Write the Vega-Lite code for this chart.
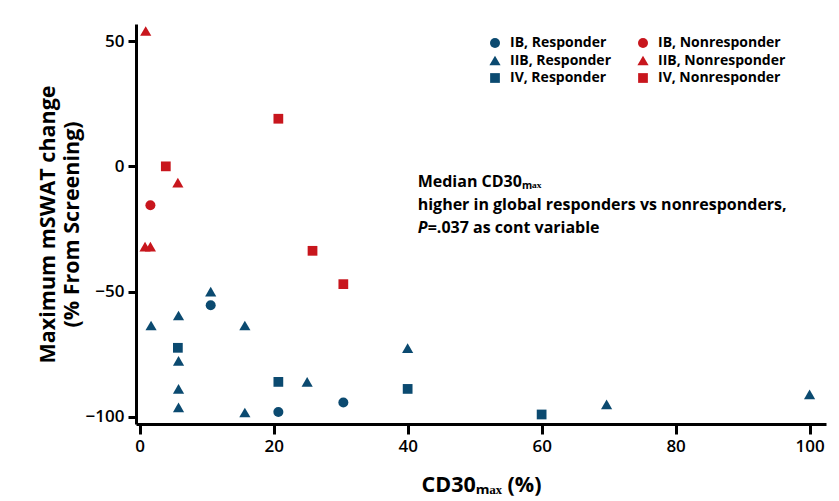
{
  "$schema": "https://vega.github.io/schema/vega-lite/v6.json",
  "width": 690,
  "height": 400,
  "autosize": {"type": "none"},
  "padding": {"left": 136, "top": 24, "right": 13, "bottom": 77},
  "background": "white",
  "config": {
    "view": {"stroke": null},
    "font": "Open Sans",
    "axis": {
      "grid": false,
      "domainColor": "black",
      "domainWidth": 3,
      "tickColor": "black",
      "tickWidth": 3,
      "labelColor": "black",
      "labelFont": "Open Sans",
      "labelFontWeight": 600,
      "labelFontSize": 17,
      "titleColor": "black",
      "titleFont": "Open Sans",
      "titleFontWeight": "bold",
      "titleFontSize": 21.5
    }
  },
  "datasets": {
    "points": [
      {"cd30": 10.6, "mswat": -55.4, "group": "IB, Responder"},
      {"cd30": 20.7, "mswat": -98, "group": "IB, Responder"},
      {"cd30": 30.4, "mswat": -94.2, "group": "IB, Responder"},
      {"cd30": 1.6, "mswat": -15.5, "group": "IB, Nonresponder"},
      {"cd30": 1.7, "mswat": -63.5, "group": "IIB, Responder"},
      {"cd30": 5.8, "mswat": -59.5, "group": "IIB, Responder"},
      {"cd30": 5.8, "mswat": -77.6, "group": "IIB, Responder"},
      {"cd30": 5.8, "mswat": -88.8, "group": "IIB, Responder"},
      {"cd30": 5.8, "mswat": -96.2, "group": "IIB, Responder"},
      {"cd30": 10.6, "mswat": -50, "group": "IIB, Responder"},
      {"cd30": 15.7, "mswat": -63.5, "group": "IIB, Responder"},
      {"cd30": 15.7, "mswat": -98.2, "group": "IIB, Responder"},
      {"cd30": 25, "mswat": -86, "group": "IIB, Responder"},
      {"cd30": 40, "mswat": -72.5, "group": "IIB, Responder"},
      {"cd30": 69.7, "mswat": -95, "group": "IIB, Responder"},
      {"cd30": 100, "mswat": -91, "group": "IIB, Responder"},
      {"cd30": 0.9, "mswat": 54, "group": "IIB, Nonresponder"},
      {"cd30": 5.7, "mswat": -6.5, "group": "IIB, Nonresponder"},
      {"cd30": 0.8, "mswat": -32, "group": "IIB, Nonresponder"},
      {"cd30": 1.6, "mswat": -32, "group": "IIB, Nonresponder"},
      {"cd30": 5.7, "mswat": -72.4, "group": "IV, Responder"},
      {"cd30": 20.7, "mswat": -86, "group": "IV, Responder"},
      {"cd30": 40, "mswat": -88.8, "group": "IV, Responder"},
      {"cd30": 60, "mswat": -99, "group": "IV, Responder"},
      {"cd30": 3.9, "mswat": 0, "group": "IV, Nonresponder"},
      {"cd30": 20.7, "mswat": 19, "group": "IV, Nonresponder"},
      {"cd30": 25.8, "mswat": -33.7, "group": "IV, Nonresponder"},
      {"cd30": 30.4, "mswat": -47, "group": "IV, Nonresponder"}
    ],
    "notes": [
      {"x": 41.5, "y": -8.4, "line": "Median CD30ₘₐₓ"},
      {"x": 41.5, "y": -17.4, "line": "higher in global responders vs nonresponders,"}
    ],
    "pnote": [
      {"x": 41.5, "y": -26.4, "p": "P", "rest": "=.037 as cont variable"}
    ]
  },
  "layer": [
    {
      "data": {"name": "points"},
      "mark": {"type": "point", "filled": true, "opacity": 1, "strokeWidth": 0},
      "encoding": {
        "x": {
          "field": "cd30", "type": "quantitative",
          "scale": {"domain": [-0.55, 102.45], "nice": false, "zero": false},
          "axis": {"values": [0, 20, 40, 60, 80, 100], "tickSize": 10, "labelPadding": 4, "title": "CD30ₘₐₓ (%)", "titlePadding": 20}
        },
        "y": {
          "field": "mswat", "type": "quantitative",
          "scale": {"domain": [-102.8, 56.8], "nice": false, "zero": false},
          "axis": {"values": [-100, -50, 0, 50], "tickSize": 8, "labelPadding": 4, "title": ["Maximum mSWAT change", "(% From Screening)"], "titlePadding": 2}
        },
        "color": {
          "field": "group", "type": "nominal",
          "scale": {
            "domain": ["IB, Responder", "IIB, Responder", "IV, Responder", "IB, Nonresponder", "IIB, Nonresponder", "IV, Nonresponder"],
            "range": ["#0b4a70", "#0b4a70", "#0b4a70", "#c8161d", "#c8161d", "#c8161d"]
          },
          "legend": {
            "title": null,
            "orient": "none",
            "legendX": 352,
            "legendY": 12,
            "columns": 2,
            "padding": 0,
            "columnPadding": 25,
            "rowPadding": 3.5,
            "labelOffset": 8,
            "labelFont": "Open Sans",
            "labelFontWeight": "bold",
            "labelFontSize": 14,
            "labelColor": "black",
            "symbolStrokeWidth": 0,
            "symbolOpacity": 1
          }
        },
        "shape": {
          "field": "group", "type": "nominal",
          "scale": {
            "domain": ["IB, Responder", "IIB, Responder", "IV, Responder", "IB, Nonresponder", "IIB, Nonresponder", "IV, Nonresponder"],
            "range": ["circle", "triangle-up", "square", "circle", "triangle-up", "square"]
          }
        },
        "size": {
          "field": "group", "type": "nominal",
          "scale": {
            "type": "ordinal",
            "domain": ["IB, Responder", "IIB, Responder", "IV, Responder", "IB, Nonresponder", "IIB, Nonresponder", "IV, Nonresponder"],
            "range": [100, 125, 95, 100, 125, 95]
          }
        }
      }
    },
    {
      "data": {"name": "notes"},
      "mark": {"type": "text", "align": "left", "baseline": "alphabetic", "font": "Open Sans", "fontWeight": "bold", "fontSize": 16, "color": "black"},
      "encoding": {
        "x": {"field": "x", "type": "quantitative"},
        "y": {"field": "y", "type": "quantitative"},
        "text": {"field": "line", "type": "nominal"}
      }
    },
    {
      "data": {"name": "pnote"},
      "mark": {"type": "text", "align": "left", "baseline": "alphabetic", "font": "Open Sans", "fontWeight": "bold", "fontStyle": "italic", "fontSize": 16, "color": "black"},
      "encoding": {
        "x": {"field": "x", "type": "quantitative"},
        "y": {"field": "y", "type": "quantitative"},
        "text": {"field": "p", "type": "nominal"}
      }
    },
    {
      "data": {"name": "pnote"},
      "mark": {"type": "text", "align": "left", "baseline": "alphabetic", "dx": 10, "font": "Open Sans", "fontWeight": "bold", "fontSize": 16, "color": "black"},
      "encoding": {
        "x": {"field": "x", "type": "quantitative"},
        "y": {"field": "y", "type": "quantitative"},
        "text": {"field": "rest", "type": "nominal"}
      }
    }
  ]
}
